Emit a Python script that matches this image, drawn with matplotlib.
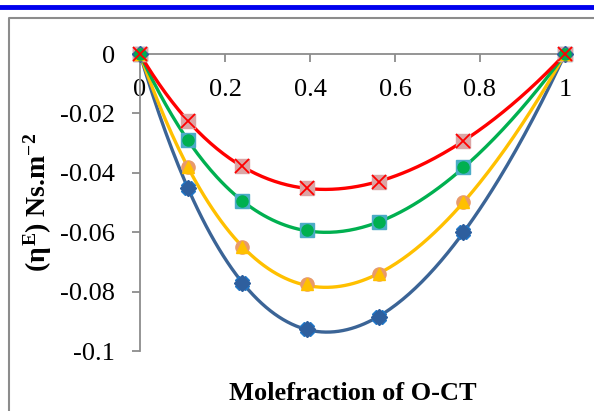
import numpy as np
import matplotlib
matplotlib.use("Agg")
import matplotlib.pyplot as plt
from matplotlib.ticker import FuncFormatter
from matplotlib.lines import Line2D

plt.rcParams['font.family'] = ['Liberation Serif', 'DejaVu Serif']
plt.rcParams['axes.unicode_minus'] = False
plt.rcParams['mathtext.fontset'] = 'custom'
plt.rcParams['mathtext.rm'] = 'Liberation Serif:bold'
plt.rcParams['mathtext.it'] = 'Liberation Serif:bold'
plt.rcParams['mathtext.bf'] = 'Liberation Serif:bold'

# mole fraction of O-CT and excess viscosity for the four series
x = [0, 0.112, 0.241, 0.392, 0.563, 0.761, 1]
eta_red = [0, -0.0226, -0.0377, -0.0452, -0.0430, -0.0292, 0]
eta_green = [0, -0.0290, -0.0495, -0.0593, -0.0567, -0.0382, 0]
eta_yellow = [0, -0.0380, -0.0649, -0.0776, -0.0741, -0.0498, 0]
eta_blue = [0, -0.0450, -0.0770, -0.0926, -0.0884, -0.0600, 0]

fig = plt.figure(figsize=(5.94, 4.11), dpi=100)
ax = fig.add_axes([140/594, 1-351/411, 425/594, 297/411])

# outer frame + blue bar at top
fig.add_artist(Line2D([0, 1], [1-7.5/411, 1-7.5/411], color='#0000ee', lw=3.5))
fig.add_artist(Line2D([8.5/594, 8.5/594, 1], [0, 1-18/411, 1-18/411], color='#8c8c8c', lw=1.5))

xs = np.linspace(0, 1, 200)

series = [
    # y, line color, back marker, back color, front marker, front color
    (eta_blue, '#3b6496', 'X', '#1f77c8', 'D', '#2e5f9e'),
    (eta_yellow, '#ffc000', 'o', '#e89a6a', '^', '#ffc000'),
    (eta_green, '#00b050', 's', '#4bacc6', 'o', '#00b050'),
    (eta_red, '#ff0000', 's', '#dba5a5', 'x', '#ff0000'),
]

for y, lc, m1, c1, m2, c2 in series:
    coef = np.polyfit(x, y, 4)
    ax.plot(xs, np.polyval(coef, xs), color=lc, lw=2.4, zorder=2)
    ax.plot(x, y, ls='none', marker=m1, ms=9.5, color=c1, mec=c1, zorder=3, clip_on=False)
    if m2 == 'x':
        ax.plot(x, y, ls='none', marker=m2, ms=10, mew=1.3, color=c2, zorder=4, clip_on=False)
    else:
        ax.plot(x, y, ls='none', marker=m2, ms=8, color=c2, mec=c2, zorder=4, clip_on=False)

ax.set_xlim(0, 1)
ax.set_ylim(-0.1, 0)
ax.set_xticks([0, 0.2, 0.4, 0.6, 0.8, 1])
ax.set_yticks([0, -0.02, -0.04, -0.06, -0.08, -0.1])
fmt = FuncFormatter(lambda v, p: '%g' % round(v, 3))
ax.xaxis.set_major_formatter(fmt)
ax.yaxis.set_major_formatter(fmt)

ax.spines['bottom'].set_position(('data', 0))
ax.spines['top'].set_visible(False)
ax.spines['right'].set_visible(False)
for s in ('left', 'bottom'):
    ax.spines[s].set_color('#8c8c8c')
    ax.spines[s].set_linewidth(1.3)
ax.tick_params(axis='both', direction='out', length=6, width=1.3, color='#8c8c8c',
               labelsize=19, pad=12)

ax.text(0.5, -0.143, 'Molefraction of O-CT', transform=ax.transAxes,
        fontsize=19, fontweight='bold', ha='center', va='center')
ax.text(-0.24, 0.5, r'($\eta^{E}$) Ns.m$^{-2}$', transform=ax.transAxes,
        fontsize=20, fontweight='bold', rotation=90, ha='center', va='center')

fig.savefig('out.png', dpi=100)
